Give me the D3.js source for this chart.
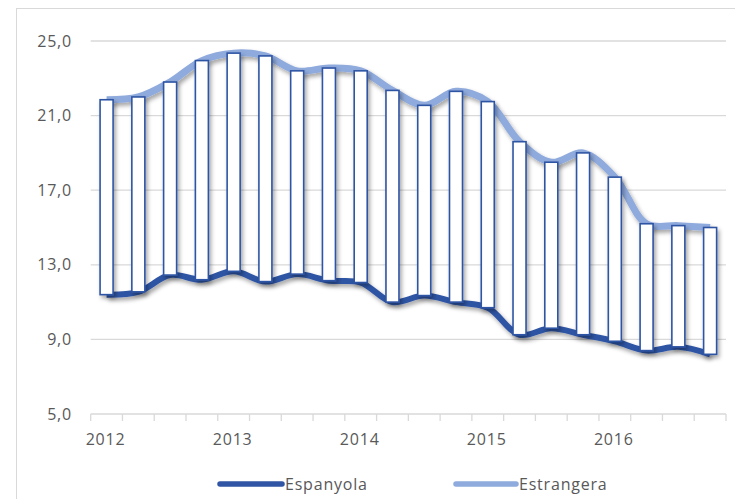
<!DOCTYPE html>
<html>
<head>
<meta charset="utf-8">
<script src="https://cdn.jsdelivr.net/npm/d3@7"></script>
<style>
  body { margin: 0; background: #fff; }
  svg { display: block; font-family: "Open Sans", "Noto Sans", sans-serif; }
  text { letter-spacing: 0.8px; }
</style>
</head>
<body>
<svg id="chart" width="735" height="499"></svg>
<script>
// quarterly labels, year shown on the first quarter only
var quarterLabels = ["2012", "", "", "", "2013", "", "", "", "2014", "", "", "",
    "2015", "", "", "", "2016", "", "", ""];
var espanyola = [11.4, 11.55, 12.45, 12.2, 12.65, 12.1, 12.5, 12.15, 12.05, 11.0,
    11.35, 11.0, 10.7, 9.25, 9.6, 9.25, 8.9, 8.4, 8.6, 8.2];
var estrangera = [21.85, 22.0, 22.8, 23.95, 24.35, 24.2, 23.4, 23.55, 23.4, 22.35,
    21.55, 22.3, 21.75, 19.6, 18.5, 19.0, 17.7, 15.2, 15.1, 15.0];
var yTicks = [5, 9, 13, 17, 21, 25];
var seriesNames = ["Espanyola", "Estrangera"];

var svg = d3.select("#chart");

var locale = d3.formatLocale({decimal: ",", thousands: ".", grouping: [3], currency: ["", "€"]});
var fmt = locale.format(".1f");

var x = d3.scaleBand()
    .domain(d3.range(quarterLabels.length))
    .range([90.7, 726])
    .paddingInner(0)
    .paddingOuter(0);

var y = d3.scaleLinear()
    .domain([5, 25])
    .range([414, 41]);

var defs = svg.append("defs");
var shadow = defs.append("filter")
    .attr("id", "shadow")
    .attr("x", "-10%").attr("y", "-50%")
    .attr("width", "120%").attr("height", "200%");
shadow.append("feDropShadow")
    .attr("dx", 2).attr("dy", 3)
    .attr("stdDeviation", 2.2)
    .attr("flood-color", "#000")
    .attr("flood-opacity", 0.35);

// outer chart border
svg.append("rect")
    .attr("x", 16.5).attr("y", 8.5)
    .attr("width", 740).attr("height", 520)
    .attr("fill", "none")
    .attr("stroke", "#d9d9d9")
    .attr("stroke-width", 1);

// gridlines
svg.append("g")
    .selectAll("line")
    .data(yTicks.filter(function (d) { return d > 5; }))
    .enter().append("line")
    .attr("x1", x.range()[0])
    .attr("x2", x.range()[1])
    .attr("y1", function (d) { return y(d); })
    .attr("y2", function (d) { return y(d); })
    .attr("stroke", "#d9d9d9")
    .attr("stroke-width", 1.3);

// y labels
svg.append("g")
    .selectAll("text")
    .data(yTicks)
    .enter().append("text")
    .attr("x", 72)
    .attr("y", function (d) { return y(d); })
    .attr("dy", "0.35em")
    .attr("text-anchor", "end")
    .attr("fill", "#595959")
    .attr("font-size", 16)
    .text(function (d) { return fmt(d); });

// x axis line and ticks at category boundaries
var xAxis = svg.append("g");
xAxis.append("line")
    .attr("x1", x.range()[0]).attr("x2", x.range()[1])
    .attr("y1", y(5)).attr("y2", y(5))
    .attr("stroke", "#d9d9d9")
    .attr("stroke-width", 1.3);
var boundaries = d3.range(quarterLabels.length).map(function (i) { return x(i); }).concat([x.range()[1]]);
xAxis.selectAll("line.tick")
    .data(boundaries)
    .enter().append("line")
    .attr("class", "tick")
    .attr("x1", function (d) { return d; })
    .attr("x2", function (d) { return d; })
    .attr("y1", y(5))
    .attr("y2", y(5) + 7)
    .attr("stroke", "#d9d9d9")
    .attr("stroke-width", 1.3);
xAxis.selectAll("text")
    .data(quarterLabels)
    .enter().append("text")
    .attr("x", function (d, i) { return x(i) + x.bandwidth() / 2 - 1; })
    .attr("y", 445)
    .attr("text-anchor", "middle")
    .attr("fill", "#595959")
    .attr("font-size", 16)
    .text(function (d) { return d; });

var line = d3.line()
    .x(function (d, i) { return x(i) + x.bandwidth() / 2; })
    .y(function (d) { return y(d); })
    .curve(d3.curveCatmullRom.alpha(0.5));

svg.append("path")
    .datum(estrangera)
    .attr("d", line)
    .attr("fill", "none")
    .attr("stroke", "#8faadc")
    .attr("stroke-width", 7)
    .attr("stroke-linejoin", "round")
    .attr("filter", "url(#shadow)");

svg.append("path")
    .datum(espanyola)
    .attr("d", line)
    .attr("fill", "none")
    .attr("stroke", "#2f55a4")
    .attr("stroke-width", 6)
    .attr("stroke-linejoin", "round")
    .attr("filter", "url(#shadow)");

// up bars between the two series
var barW = 13;
svg.append("g")
    .attr("filter", "url(#shadow)")
    .selectAll("rect")
    .data(d3.range(quarterLabels.length))
    .enter().append("rect")
    .attr("x", function (i) { return x(i) + x.bandwidth() / 2 - barW / 2; })
    .attr("y", function (i) { return y(estrangera[i]); })
    .attr("width", barW)
    .attr("height", function (i) { return y(espanyola[i]) - y(estrangera[i]); })
    .attr("fill", "#fff")
    .attr("stroke", "#2f55a4")
    .attr("stroke-width", 1.6);

// legend
var legendItems = [
    {name: seriesNames[0], color: "#2f55a4", width: 5.5, x1: 220, x2: 282},
    {name: seriesNames[1], color: "#8faadc", width: 5.5, x1: 456, x2: 516}
];
var legend = svg.append("g")
    .selectAll("g")
    .data(legendItems)
    .enter().append("g");
legend.append("line")
    .attr("x1", function (d) { return d.x1; })
    .attr("x2", function (d) { return d.x2; })
    .attr("y1", 484).attr("y2", 484)
    .attr("stroke", function (d) { return d.color; })
    .attr("stroke-width", function (d) { return d.width; })
    .attr("stroke-linecap", "round");
legend.append("text")
    .attr("x", function (d) { return d.x2 + 3; })
    .attr("y", 484)
    .attr("dy", "0.35em")
    .attr("fill", "#595959")
    .attr("font-size", 16)
    .text(function (d) { return d.name; });
</script>
</body>
</html>
